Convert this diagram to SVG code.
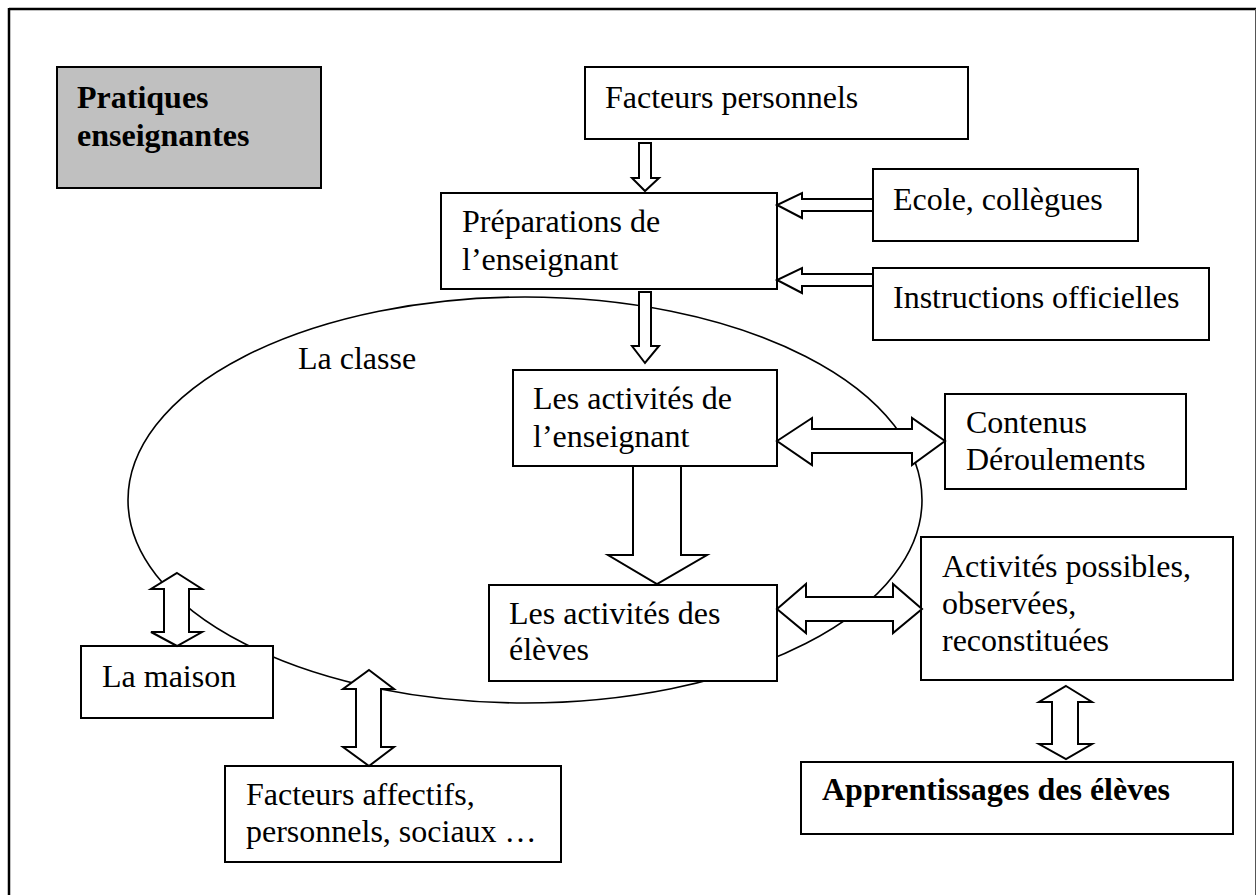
<svg xmlns="http://www.w3.org/2000/svg" width="1257" height="895" viewBox="0 0 1257 895">
<style>
  .box { fill: #ffffff; stroke: #000000; stroke-width: 2; }
  .grey { fill: #c0c0c0; stroke: #000000; stroke-width: 2; }
  .t { font-family: "Liberation Serif", "Times New Roman", serif; font-size: 32px; fill: #000000; }
  .b { font-weight: bold; }
  .arr { fill: #ffffff; stroke: #000000; stroke-width: 2; stroke-linejoin: miter; }
  .ell { fill: none; stroke: #000000; stroke-width: 1.6; }
</style>
<rect width="1257" height="895" fill="#ffffff"/>
<g id="frame">
  <line x1="9" y1="9" x2="1256" y2="9" stroke="#000" stroke-width="2.5"/>
  <line x1="9" y1="8" x2="9" y2="895" stroke="#000" stroke-width="2.5"/>
  <line x1="1255.5" y1="9" x2="1255.5" y2="895" stroke="#555" stroke-width="1"/>
</g>
<g id="la-classe">
  <ellipse class="ell" cx="525" cy="500" rx="397" ry="203"/>
  <text class="t" x="298" y="369">La classe</text>
</g>
<g id="pratiques">
  <rect class="grey" x="57" y="67" width="264" height="121"/>
  <text class="t b" x="77" y="108">Pratiques</text>
  <text class="t b" x="77" y="146">enseignantes</text>
</g>
<g id="facteurs-personnels">
  <rect class="box" x="585" y="67" width="383" height="72"/>
  <text class="t" x="605" y="108">Facteurs personnels</text>
</g>
<g id="preparations">
  <rect class="box" x="441" y="193" width="336" height="96"/>
  <text class="t" x="462" y="232">Préparations de</text>
  <text class="t" x="462" y="270">l’enseignant</text>
</g>
<g id="ecole">
  <rect class="box" x="873" y="169" width="265" height="72"/>
  <text class="t" x="893" y="210">Ecole, collègues</text>
</g>
<g id="instructions">
  <rect class="box" x="873" y="268" width="336" height="72"/>
  <text class="t" x="893" y="308">Instructions officielles</text>
</g>
<g id="activites-enseignant">
  <rect class="box" x="513" y="370" width="264" height="96"/>
  <text class="t" x="533" y="409">Les activités de</text>
  <text class="t" x="533" y="447">l’enseignant</text>
</g>
<g id="contenus">
  <rect class="box" x="945" y="394" width="241" height="95"/>
  <text class="t" x="966" y="433">Contenus</text>
  <text class="t" x="966" y="470">Déroulements</text>
</g>
<g id="activites-eleves">
  <rect class="box" x="489" y="585" width="288" height="96"/>
  <text class="t" x="509" y="624">Les activités des</text>
  <text class="t" x="509" y="660">élèves</text>
</g>
<g id="activites-possibles">
  <rect class="box" x="921" y="537" width="312" height="143"/>
  <text class="t" x="942" y="577">Activités possibles,</text>
  <text class="t" x="942" y="614">observées,</text>
  <text class="t" x="942" y="651">reconstituées</text>
</g>
<g id="apprentissages">
  <rect class="box" x="801" y="762" width="432" height="72"/>
  <text class="t b" x="822" y="800">Apprentissages des élèves</text>
</g>
<g id="maison">
  <rect class="box" x="81" y="646" width="192" height="72"/>
  <text class="t" x="102" y="687">La maison</text>
</g>
<g id="facteurs-affectifs">
  <rect class="box" x="225" y="766" width="336" height="96"/>
  <text class="t" x="246" y="805">Facteurs affectifs,</text>
  <text class="t" x="246" y="842">personnels, sociaux …</text>
</g>
<g id="connectors">
  <polygon class="arr" points="639,143 651,143 651,178 659,178 645,191 632,178 639,178"/>
  <polygon class="arr" points="639,292 651,292 651,346 659,346 645,363 632,346 639,346"/>
  <polygon class="arr" points="873,199 802,199 802,193 777,205 802,218 802,211 873,211"/>
  <polygon class="arr" points="873,274 802,274 802,268 777,280 802,293 802,286 873,286"/>
  <polygon class="arr" points="777,441 812,418 812,429 912,429 912,418 945,441 912,465 912,453 812,453 812,465"/>
  <polygon class="arr" points="633,466 681,466 681,555 707,555 657,584 608,555 633,555"/>
  <polygon class="arr" points="777,609 806,584 806,597 893,597 893,584 922,609 893,633 893,621 806,621 806,633"/>
  <polygon class="arr" points="1066,686 1092,702 1078,702 1078,744 1092,744 1066,759 1039,744 1052,744 1052,702 1039,702"/>
  <polygon class="arr" points="177,573 202,589 189,589 189,632 202,632 177,646 151,632 164,632 164,589 151,589"/>
  <polygon class="arr" points="369,670 394,689 381,689 381,747 394,747 369,766 343,747 356,747 356,689 343,689"/>
</g>
</svg>
